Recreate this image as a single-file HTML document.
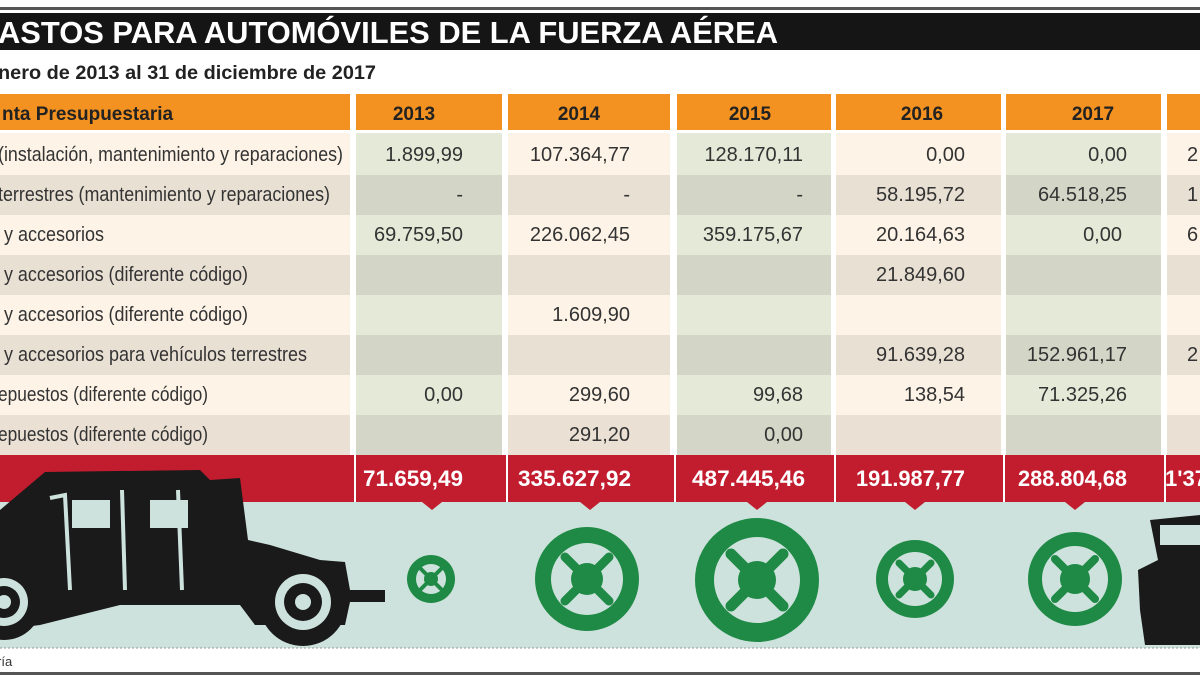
<!DOCTYPE html>
<html><head><meta charset="utf-8"><style>
body{margin:0;background:#fff;}
svg{display:block;font-family:"Liberation Sans",sans-serif;}
</style></head><body>
<svg width="1200" height="675" viewBox="0 0 1200 675" xmlns="http://www.w3.org/2000/svg">
<rect width="1200" height="675" fill="#fff"/>
<rect x="0" y="7" width="1200" height="3" fill="#555"/>
<rect x="0" y="13" width="1200" height="37" fill="#151515"/>
<text x="-2" y="43" fill="#fff" font-size="31" font-weight="bold" textLength="780" lengthAdjust="spacingAndGlyphs">ASTOS PARA AUTOMÓVILES DE LA FUERZA AÉREA</text>
<text x="-2" y="79" fill="#222" font-size="19" font-weight="bold" textLength="378" lengthAdjust="spacingAndGlyphs">nero de 2013 al 31 de diciembre de 2017</text>
<g>
<rect x="0" y="94" width="350" height="36" fill="#f39220"/>
<rect x="356" y="94" width="146" height="36" fill="#f39220"/>
<rect x="508" y="94" width="162" height="36" fill="#f39220"/>
<rect x="677" y="94" width="154" height="36" fill="#f39220"/>
<rect x="836" y="94" width="165" height="36" fill="#f39220"/>
<rect x="1006" y="94" width="155" height="36" fill="#f39220"/>
<rect x="1167" y="94" width="33" height="36" fill="#f39220"/>
</g>
<g font-size="19" font-weight="bold" fill="#222">
<text x="2" y="120">nta Presupuestaria</text>
<text x="414" y="120" text-anchor="middle">2013</text>
<text x="579" y="120" text-anchor="middle">2014</text>
<text x="750" y="120" text-anchor="middle">2015</text>
<text x="922" y="120" text-anchor="middle">2016</text>
<text x="1093" y="120" text-anchor="middle">2017</text>
</g>
<g>
<rect x="0" y="133" width="350" height="322" fill="#fdf3e6"/>
<rect x="508" y="133" width="162" height="322" fill="#fdf3e6"/>
<rect x="836" y="133" width="165" height="322" fill="#fdf3e6"/>
<rect x="1167" y="133" width="33" height="322" fill="#fdf3e6"/>
<rect x="356" y="133" width="146" height="322" fill="#e5e9d7"/>
<rect x="677" y="133" width="154" height="322" fill="#e5e9d7"/>
<rect x="1006" y="133" width="155" height="322" fill="#e5e9d7"/>
</g>
<g fill="#000" opacity="0.075">
<rect x="0" y="175" width="1200" height="40"/>
<rect x="0" y="255" width="1200" height="40"/>
<rect x="0" y="335" width="1200" height="40"/>
<rect x="0" y="415" width="1200" height="40"/>
</g>
<g fill="#fff">
<rect x="350" y="133" width="6" height="322"/>
<rect x="502" y="133" width="6" height="322"/>
<rect x="670" y="133" width="7" height="322"/>
<rect x="831" y="133" width="5" height="322"/>
<rect x="1001" y="133" width="5" height="322"/>
<rect x="1161" y="133" width="6" height="322"/>
</g>
<g font-size="20" fill="#333" lengthAdjust="spacingAndGlyphs">
<text x="-2" y="161" textLength="345" lengthAdjust="spacingAndGlyphs">(instalación, mantenimiento y reparaciones)</text>
<text x="-2" y="201" textLength="332" lengthAdjust="spacingAndGlyphs">terrestres (mantenimiento y reparaciones)</text>
<text x="4" y="241" textLength="100" lengthAdjust="spacingAndGlyphs">y accesorios</text>
<text x="4" y="281" textLength="244" lengthAdjust="spacingAndGlyphs">y accesorios (diferente código)</text>
<text x="4" y="321" textLength="244" lengthAdjust="spacingAndGlyphs">y accesorios (diferente código)</text>
<text x="4" y="361" textLength="303" lengthAdjust="spacingAndGlyphs">y accesorios para vehículos terrestres</text>
<text x="-2" y="401" textLength="210" lengthAdjust="spacingAndGlyphs">epuestos (diferente código)</text>
<text x="-2" y="441" textLength="210" lengthAdjust="spacingAndGlyphs">epuestos (diferente código)</text>
</g>
<g font-size="20" fill="#333" text-anchor="end">
<text x="463" y="161">1.899,99</text>
<text x="630" y="161">107.364,77</text>
<text x="803" y="161">128.170,11</text>
<text x="965" y="161">0,00</text>
<text x="1127" y="161">0,00</text>
<text x="1187" y="161" text-anchor="start">2</text>
<text x="463" y="201">-</text>
<text x="630" y="201">-</text>
<text x="803" y="201">-</text>
<text x="965" y="201">58.195,72</text>
<text x="1127" y="201">64.518,25</text>
<text x="1187" y="201" text-anchor="start">1</text>
<text x="463" y="241">69.759,50</text>
<text x="630" y="241">226.062,45</text>
<text x="803" y="241">359.175,67</text>
<text x="965" y="241">20.164,63</text>
<text x="1122" y="241">0,00</text>
<text x="1187" y="241" text-anchor="start">6</text>
<text x="965" y="281">21.849,60</text>
<text x="630" y="321">1.609,90</text>
<text x="965" y="361">91.639,28</text>
<text x="1127" y="361">152.961,17</text>
<text x="1187" y="361" text-anchor="start">2</text>
<text x="463" y="401">0,00</text>
<text x="630" y="401">299,60</text>
<text x="803" y="401">99,68</text>
<text x="965" y="401">138,54</text>
<text x="1127" y="401">71.325,26</text>
<text x="630" y="441">291,20</text>
<text x="803" y="441">0,00</text>
</g>
<rect x="0" y="455" width="1200" height="47" fill="#c21d2f"/>
<g fill="#fff">
<rect x="354" y="455" width="2" height="47"/>
<rect x="506" y="455" width="2" height="47"/>
<rect x="674" y="455" width="2" height="47"/>
<rect x="834" y="455" width="2" height="47"/>
<rect x="1003" y="455" width="2" height="47"/>
<rect x="1164" y="455" width="2" height="47"/>
</g>
<rect x="0" y="502" width="1200" height="146" fill="#cde2dc"/>
<g fill="#c21d2f">
<polygon points="422,502 442,502 432,510"/>
<polygon points="580,502 600,502 590,510"/>
<polygon points="747,502 767,502 757,510"/>
<polygon points="905,502 925,502 915,510"/>
<polygon points="1065,502 1085,502 1075,510"/>
</g>
<g font-size="22" font-weight="bold" fill="#fff">
<text x="363" y="486" textLength="100" lengthAdjust="spacingAndGlyphs">71.659,49</text>
<text x="518" y="486" textLength="113" lengthAdjust="spacingAndGlyphs">335.627,92</text>
<text x="692" y="486" textLength="113" lengthAdjust="spacingAndGlyphs">487.445,46</text>
<text x="856" y="486" textLength="109" lengthAdjust="spacingAndGlyphs">191.987,77</text>
<text x="1018" y="486" textLength="109" lengthAdjust="spacingAndGlyphs">288.804,68</text>
<text x="1165" y="486">1'37</text>
</g>
<!-- humvee -->
<g fill="#1a1a1a">
<path d="M0,510 L45,472 L200,470 L210,480 L240,478 L248,540 L270,545 L320,560 L345,562 L350,590 L385,590 L385,602 L350,602 L345,625 L255,625 L240,605 L120,605 L40,625 L0,630 Z"/>
<circle cx="303" cy="602" r="44"/>
<circle cx="4" cy="602" r="38"/>
</g>
<g fill="none" stroke="#cde2dc" stroke-width="4">
<path d="M50,498 L65,495 L70,590"/>
<path d="M122,490 L125,590"/>
<path d="M178,490 L182,590"/>
</g>
<g fill="#cde2dc">
<rect x="72" y="500" width="38" height="28"/>
<rect x="150" y="500" width="38" height="28"/>
<circle cx="303" cy="602" r="28"/>
<circle cx="4" cy="602" r="24"/>
</g>
<g fill="#1a1a1a"><circle cx="303" cy="602" r="19"/><circle cx="4" cy="602" r="16"/></g>
<g fill="#cde2dc"><circle cx="303" cy="602" r="8"/><circle cx="4" cy="602" r="7"/></g>
<!-- jeep -->
<g fill="#1a1a1a">
<path d="M1150,520 L1200,515 L1200,645 L1145,645 L1140,610 L1138,570 L1158,560 Z"/>
</g>
<rect x="1160" y="525" width="40" height="20" fill="#cde2dc"/>
<g fill="#1f8a45">
<circle cx="431" cy="579" r="24"/>
<circle cx="587" cy="579" r="52"/>
<circle cx="757" cy="580" r="62"/>
<circle cx="915" cy="579" r="39"/>
<circle cx="1075" cy="579" r="47"/>
</g>
<g fill="#cde2dc">
<circle cx="431" cy="579" r="15"/>
<circle cx="587" cy="579" r="36"/>
<circle cx="757" cy="580" r="43"/>
<circle cx="915" cy="579" r="27"/>
<circle cx="1075" cy="579" r="33"/>
</g>
<g fill="#1f8a45">
<circle cx="431" cy="579" r="7"/>
<circle cx="587" cy="579" r="16"/>
<circle cx="757" cy="580" r="19"/>
<circle cx="915" cy="579" r="12"/>
<circle cx="1075" cy="579" r="15"/>
</g>
<g stroke="#1f8a45" stroke-linecap="round">
<path d="M421,569 L441,589 M441,569 L421,589" stroke-width="4"/>
<path d="M565,557 L609,601 M609,557 L565,601" stroke-width="9"/>
<path d="M731,554 L783,606 M783,554 L731,606" stroke-width="11"/>
<path d="M899,563 L931,595 M931,563 L899,595" stroke-width="7"/>
<path d="M1055,559 L1095,599 M1095,559 L1055,599" stroke-width="8"/>
</g>
<line x1="0" y1="648" x2="1200" y2="648" stroke="#999" stroke-width="1" stroke-dasharray="2,2"/>
<text x="-3" y="666" font-size="13" fill="#333">ría</text>
<rect x="0" y="672" width="1200" height="3" fill="#555"/>
</svg>
</body></html>
